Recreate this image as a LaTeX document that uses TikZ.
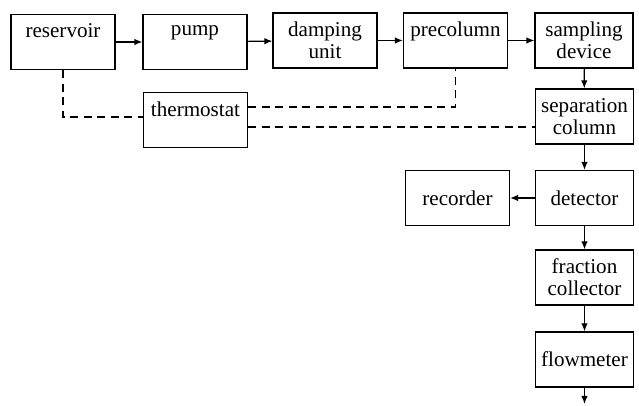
\documentclass[tikz,border=0pt]{standalone}
\usepackage{fontspec}
\setmainfont{Liberation Serif}
\usetikzlibrary{arrows.meta}

\begin{document}
\begin{tikzpicture}[font=\fontsize{12}{12.5}\selectfont,
	blk/.style={draw, line width=0.7pt, align=center, inner sep=1pt, minimum width=2.08cm, minimum height=1.1cm},
	colblk/.style={blk, minimum width=1.96cm},
	flow/.style={line width=0.7pt, -{Latex[length=1.6mm,width=1.3mm]}},
	link/.style={line width=0.7pt, dash pattern=on 1.6mm off 1.1mm}]
	\useasboundingbox (0,0) rectangle (12.78,8.12);
	% top row
	\node[blk] (res) at (1.26,7.28) {reservoir\\~};
	\node[blk] (pump) at (3.90,7.28) {pump\\~};
	\node[blk] (damp) at (6.50,7.31) {damping\\unit};
	\node[blk] (precol) at (9.11,7.31) {precolumn\\~};
	\node[colblk] (sampl) at (11.68,7.31) {sampling\\device};
	% thermostat
	\node[blk] (thermo) at (3.91,5.72) {thermostat\\~};
	% right column
	\node[colblk] (sep) at (11.69,5.79) {separation\\column};
	\node[colblk] (det) at (11.69,4.16) {detector};
	\node[blk] (rec) at (9.15,4.16) {recorder};
	\node[colblk] (frac) at (11.69,2.57) {fraction\\collector};
	\node[colblk] (flowm) at (11.69,0.93) {flowmeter};
	\coordinate (out) at (11.69,0.04);
	% liquid path
	\draw[flow] (res) -- (pump);
	\draw[flow] (pump) -- (damp);
	\draw[flow] (damp) -- (precol);
	\draw[flow] (precol) -- (sampl);
	\draw[flow] (sampl) -- (sep);
	\draw[flow] (sep) -- (det);
	\draw[flow] (det) -- (rec);
	\draw[flow] (det) -- (frac);
	\draw[flow] (frac) -- (flowm);
	\draw[flow] (flowm) -- (out);
	% thermostat lines
	\draw[link] (res.south) |- ([yshift=0.06cm]thermo.west);
	\draw[link] ([yshift=0.26cm]thermo.east) -| (precol.south);
	\draw[link] ([yshift=-0.14cm]thermo.east) -- ([yshift=-0.14cm]thermo.east -| sep.west);
\end{tikzpicture}
\end{document}
